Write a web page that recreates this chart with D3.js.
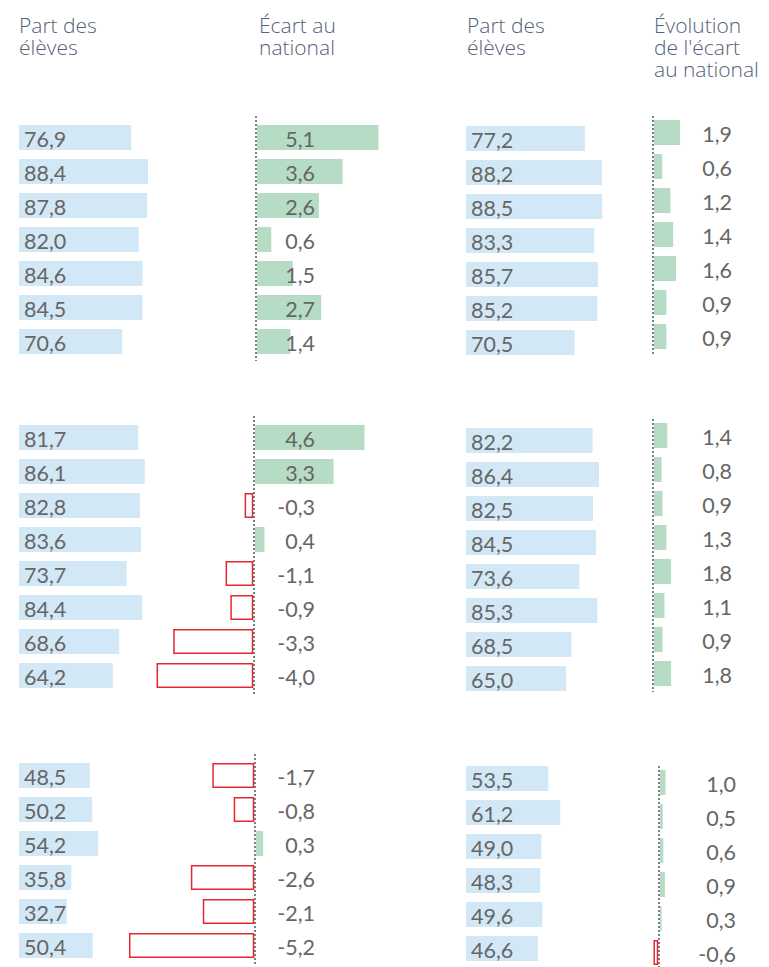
<!DOCTYPE html>
<html>
<head>
<meta charset="utf-8">
<script src="https://cdn.jsdelivr.net/npm/d3@7"></script>
<style>
body { margin: 0; background: #fff; }
text { font-family: "Open Sans", sans-serif; }
</style>
</head>
<body>
<div id="chart"></div>
<script>
var width = 769,
	height = 967;

// colonne 1 : part des élèves
var partA = [
	[76.9, 88.4, 87.8, 82.0, 84.6, 84.5, 70.6],
	[81.7, 86.1, 82.8, 83.6, 73.7, 84.4, 68.6, 64.2],
	[48.5, 50.2, 54.2, 35.8, 32.7, 50.4]
];
// colonne 2 : écart au national
var ecart = [
	[5.1, 3.6, 2.6, 0.6, 1.5, 2.7, 1.4],
	[4.6, 3.3, -0.3, 0.4, -1.1, -0.9, -3.3, -4.0],
	[-1.7, -0.8, 0.3, -2.6, -2.1, -5.2]
];
// colonne 3 : part des élèves
var partB = [
	[77.2, 88.2, 88.5, 83.3, 85.7, 85.2, 70.5],
	[82.2, 86.4, 82.5, 84.5, 73.6, 85.3, 68.5, 65.0],
	[53.5, 61.2, 49.0, 48.3, 49.6, 46.6]
];
// colonne 4 : évolution de l'écart au national
var evol = [
	[1.9, 0.6, 1.2, 1.4, 1.6, 0.9, 0.9],
	[1.4, 0.8, 0.9, 1.3, 1.8, 1.1, 0.9, 1.8],
	[1.0, 0.5, 0.6, 0.9, 0.3, -0.6]
];

var headers = [
	{x: 19, lines: ["Part des", "élèves"]},
	{x: 259, lines: ["Écart au", "national"]},
	{x: 467, lines: ["Part des", "élèves"]},
	{x: 654, lines: ["Évolution", "de l'écart", "au national"]}
];

var rowStep = 34,
	barH = 25;

// position verticale de chaque bloc (haut de la 1re barre)
var topA = [125, 425, 763];
var topB = [126, 428, 766];
var topE = [120, 423, 770];
var axisA = [256, 254, 255];
var axisE = [653, 653, 659];
var evolPx = [13.7, 9.5, 5.5];
var evolTextX = [732, 732, 736];

var blue = "#d3e8f6",
	green = "#b6dcc5",
	red = "#e52631",
	txt = "#666666",
	head = "#556178";

var svg = d3.select("#chart").append("svg")
	.attr("width", width)
	.attr("height", height);

// entêtes : un seul <text> par colonne, une ligne par tspan
headers.forEach(function(h) {
	var t = svg.append("text")
		.attr("x", h.x)
		.attr("y", 33)
		.attr("fill", head)
		.style("font-size", "21px")
		.style("font-weight", 300);
	h.lines.forEach(function(l, i) {
		t.append("tspan")
			.attr("x", h.x)
			.attr("dy", i == 0 ? 0 : 22)
			.text(l);
	});
});

var xA = d3.scaleLinear().domain([0, 100]).range([19, 19 + 146]);
var xB = d3.scaleLinear().domain([0, 100]).range([466, 466 + 154]);
var fmt = function(v) { return d3.format(".1f")(v).replace(".", ",").replace("−", "-"); };

function valueText(x, y, v, anchor) {
	svg.append("text")
		.attr("x", x)
		.attr("y", y)
		.attr("fill", txt)
		.attr("text-anchor", anchor)
		.style("font-size", "21.5px")
		.style("font-family", "Lato, sans-serif")
		.text(fmt(v));
}

function signedBars(values, top, axisX, scale) {
	values.forEach(function(v, i) {
		var y = top + i * rowStep;
		if (v >= 0) {
			svg.append("rect")
				.attr("x", axisX + 1)
				.attr("y", y)
				.attr("width", Math.max(scale(v) - scale(0), 1.5))
				.attr("height", barH)
				.attr("fill", green);
		} else {
			var w = scale(0) - scale(v);
			svg.append("rect")
				.attr("x", axisX - 1.5 - w)
				.attr("y", y + 0.75)
				.attr("width", w)
				.attr("height", barH - 1.5)
				.attr("fill", "#fff")
				.attr("stroke", red)
				.attr("stroke-width", 1.5);
		}
	});
}

function dotted(x, y1, y2) {
	svg.append("line")
		.attr("x1", x).attr("x2", x)
		.attr("y1", y1).attr("y2", y2)
		.attr("stroke", "#555")
		.attr("stroke-width", 1.5)
		.attr("stroke-dasharray", "2,2");
}

for (var g = 0; g < partA.length; g++) {
	var n = partA[g].length;

	// colonne 1
	partA[g].forEach(function(v, i) {
		var y = topA[g] + i * rowStep;
		svg.append("rect")
			.attr("x", xA(0)).attr("y", y)
			.attr("width", xA(v) - xA(0)).attr("height", barH)
			.attr("fill", blue);
		valueText(24, y + 22, v, "start");
	});

	// colonne 2
	var xE = d3.scaleLinear().domain([0, 1]).range([0, 23.8]);
	signedBars(ecart[g], topA[g], axisA[g], xE);
	dotted(axisA[g], topA[g] - 9, topA[g] + n * rowStep - 2);
	ecart[g].forEach(function(v, i) {
		valueText(315, topA[g] + i * rowStep + 22, v, "end");
	});

	// colonne 3
	partB[g].forEach(function(v, i) {
		var y = topB[g] + i * rowStep;
		svg.append("rect")
			.attr("x", xB(0)).attr("y", y)
			.attr("width", xB(v) - xB(0)).attr("height", barH)
			.attr("fill", blue);
		valueText(471, y + 22, v, "start");
	});

	// colonne 4
	var xV = d3.scaleLinear().domain([0, 1]).range([0, evolPx[g]]);
	signedBars(evol[g], topE[g], axisE[g], xV);
	dotted(axisE[g], topE[g] - 4, topE[g] + n * rowStep - 3);
	evol[g].forEach(function(v, i) {
		valueText(evolTextX[g], topE[g] + i * rowStep + 22, v, "end");
	});
}
</script>
</body>
</html>
